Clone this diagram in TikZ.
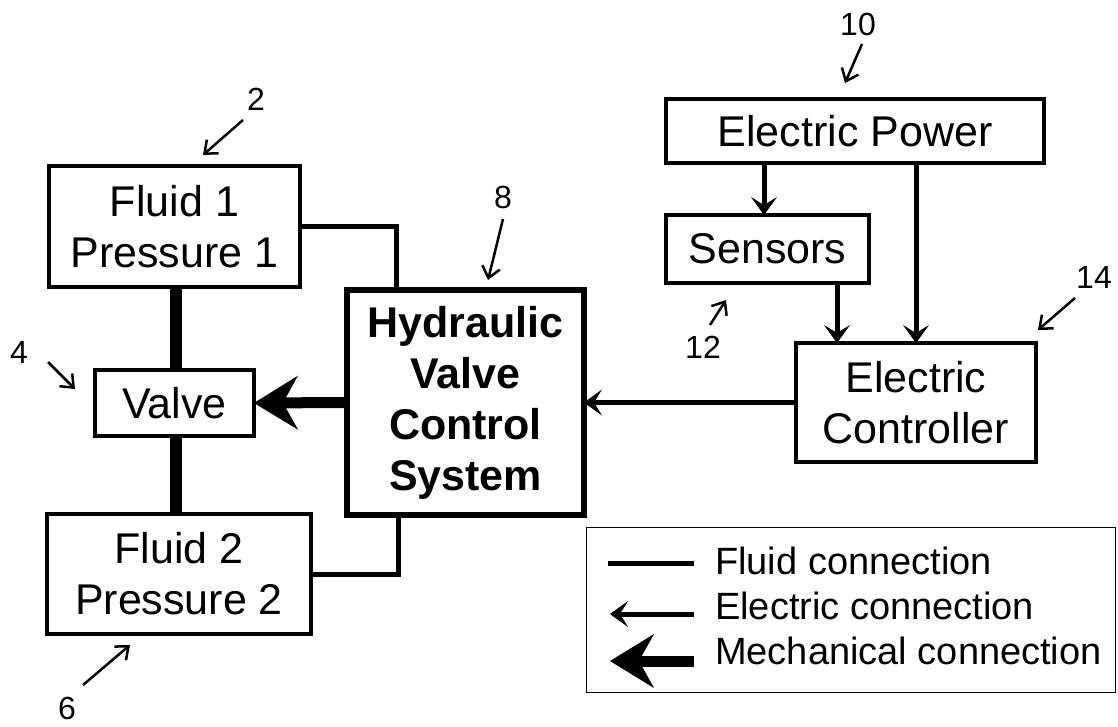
\documentclass[tikz,border=0pt]{standalone}
\usepackage{fontspec}
\setmainfont{Liberation Sans}
\usetikzlibrary{arrows.meta,calc}
\begin{document}
\begin{tikzpicture}[x=1pt,y=-1pt,
  box/.style={draw,line width=4pt,inner sep=0pt,outer sep=0pt,align=center,font=\fontsize{43}{51}\selectfont},
  fluid/.style={line width=5pt},
  pipe/.style={line width=12pt},
  elec/.style={line width=5pt,-{Stealth[length=18pt,width=26pt,inset=8pt,line width=1pt]}},
  mech/.style={line width=11pt,-{Stealth[length=44pt,width=54pt,inset=15pt,line width=1pt]}},
  refarrow/.style={line width=2.5pt,-{Straight Barb[length=11pt,width=18pt,line width=2.5pt]}},
  reflabel/.style={font=\fontsize{32}{36}\selectfont,inner sep=0pt},
  legtext/.style={font=\fontsize{38}{45}\selectfont,inner sep=0pt}]
\useasboundingbox (0,0) rectangle (1118,726);

% boxes
\node[box,minimum width=251pt,minimum height=121pt] (F1) at (174.5,226.5) {Fluid 1\\Pressure 1};
\node[box,minimum width=159pt,minimum height=66pt] (V) at (174.5,403) {Valve};
\node[box,minimum width=264pt,minimum height=120pt] (F2) at (179,574) {Fluid 2\\Pressure 2};
\node[box,line width=6pt,minimum width=237pt,minimum height=225pt,font=\fontsize{43}{51}\selectfont\bfseries] (HV) at (465.5,402.5) {Hydraulic\\Valve\\Control\\System};
\node[box,minimum width=378pt,minimum height=64pt] (EP) at (855,131) {Electric Power};
\node[box,minimum width=203pt,minimum height=68pt] (S) at (767.5,249) {Sensors};
\node[box,minimum width=240pt,minimum height=119pt] (EC) at (916,402.5) {Electric\\Controller};

% helper coordinates
\coordinate (px) at (176,0);
\coordinate (h1) at (396,0);
\coordinate (h2) at (398,0);
\coordinate (s1) at (764,0);
\coordinate (s2) at (837,0);

% fluid connections
\draw[pipe] (F1.south -| px) -- (V.north -| px);
\draw[pipe] (V.south -| px) -- (F2.north -| px);
\draw[fluid] (F1.east) -| (HV.north -| h1);
\draw[fluid] (HV.south -| h2) |- (F2.east);

% mechanical
\draw[mech] (HV.west) -- (V.east);

% electric
\draw[elec] (EP.south -| s1) -- (S.north -| s1);
\draw[elec] (EP.south -| EC.north) -- (EC.north);
\draw[elec] (S.south -| s2) -- (EC.north -| s2);
\draw[elec] (EC.west) -- (HV.east);

% reference labels
\node[reflabel] (n2) at (256,99) {2};
\coordinate (a2s) at (243,120); \coordinate (a2e) at (203,155);
\draw[refarrow] (a2s) -- (a2e);
\node[reflabel] (n8) at (503,197) {8};
\coordinate (a8s) at (503,219); \coordinate (a8e) at (488,280);
\draw[refarrow] (a8s) -- (a8e);
\node[reflabel] (n4) at (19,352) {4};
\coordinate (a4s) at (48,362); \coordinate (a4e) at (75,389);
\draw[refarrow] (a4s) -- (a4e);
\node[reflabel] (n6) at (67,708) {6};
\coordinate (a6s) at (83,685); \coordinate (a6e) at (130,645);
\draw[refarrow] (a6s) -- (a6e);
\node[reflabel] (n10) at (858,24) {10};
\coordinate (a10s) at (862,44); \coordinate (a10e) at (845,83);
\draw[refarrow] (a10s) -- (a10e);
\node[reflabel] (n14) at (1094,277) {14};
\coordinate (a14s) at (1075,298); \coordinate (a14e) at (1038,330);
\draw[refarrow] (a14s) -- (a14e);
\node[reflabel] (n12) at (703,347) {12};
\coordinate (a12s) at (710,325); \coordinate (a12e) at (726,300);
\draw[refarrow] (a12s) -- (a12e);

% legend
\node[draw,line width=1.5pt,minimum width=529pt,minimum height=165pt,inner sep=0pt] (L) at (851,610) {};
\node[legtext,anchor=base west] (t1) at (715,574) {Fluid connection};
\node[legtext,anchor=base west] (t2) at (715,619) {Electric connection};
\node[legtext,anchor=base west] (t3) at (715,664) {Mechanical connection};
\coordinate (l1s) at (608,563); \coordinate (l1e) at (694,563);
\coordinate (l2s) at (694,614); \coordinate (l2e) at (610,614);
\coordinate (l3s) at (694,661); \coordinate (l3e) at (610,661);
\draw[fluid] (l1s) -- (l1e);
\draw[elec] (l2s) -- (l2e);
\draw[mech] (l3s) -- (l3e);
\end{tikzpicture}
\end{document}
